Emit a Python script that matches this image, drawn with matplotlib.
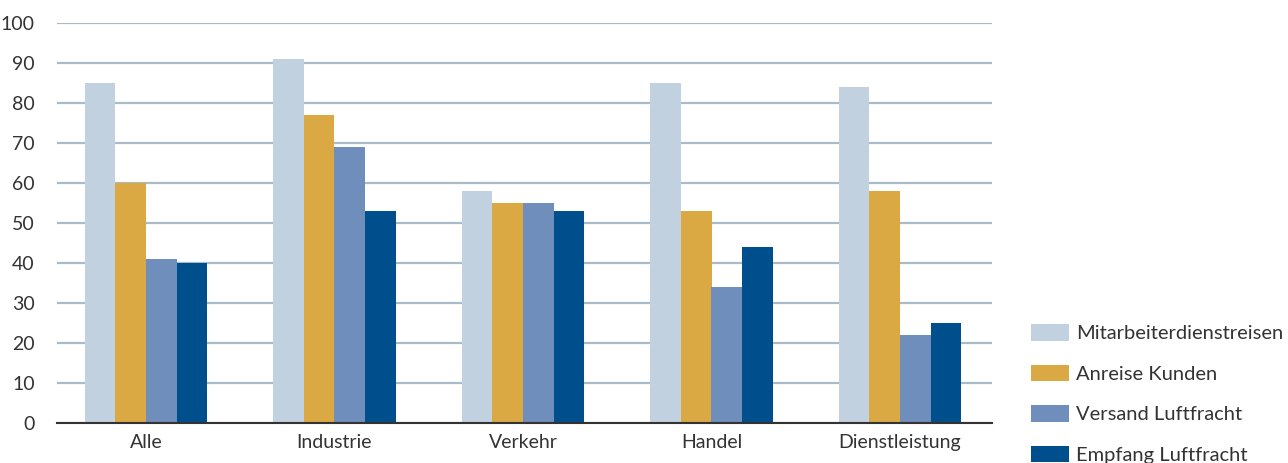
import numpy as np
import matplotlib.pyplot as plt

#%% Data #####################################################################
groups = ["Alle", "Industrie", "Verkehr", "Handel", "Dienstleistung"]
series = ["Mitarbeiterdienstreisen", "Anreise Kunden",
          "Versand Luftfracht", "Empfang Luftfracht"]
mitarbeiter = [85, 91, 58, 85, 84]
anreise = [60, 77, 55, 53, 58]
versand = [41, 69, 55, 34, 22]
empfang = [40, 53, 53, 44, 25]
colors = ["#C2D1E0", "#DBA943", "#6F8EBB", "#004F8D"]

#%% Plot #####################################################################
plt.rcParams['font.family'] = ['Lato', 'DejaVu Sans']
fig = plt.figure(figsize=(12.88, 4.63), dpi=100)
ax = fig.add_axes([57/1288, 40/463, 935/1288, 400/463])

x = np.arange(len(groups))
w = 0.162
for i, (vals, c, name) in enumerate(zip([mitarbeiter, anreise, versand, empfang],
                                         colors, series)):
    ax.bar(x + (i - 1.5) * w, vals, w, color=c, label=name, zorder=3)

ax.set_xlim(-0.472, 4.488)
ax.set_ylim(0, 100)
ax.set_yticks(range(0, 101, 10))
ax.set_xticks(x)
ax.set_xticklabels(groups)
ax.grid(axis='y', color='#A9BBC6', lw=1.6, zorder=0)
for s in ['top', 'right', 'left']:
    ax.spines[s].set_visible(False)
ax.spines['bottom'].set_color('#333333')
ax.spines['bottom'].set_linewidth(1.5)
ax.spines['bottom'].set_zorder(4)
ax.tick_params(length=0, labelsize=14, labelcolor='#333333')
ax.tick_params(axis='y', pad=16)
ax.tick_params(axis='x', pad=8)

ax.legend(loc='upper left', bbox_to_anchor=(1013/1288, 1 - 306/463),
          bbox_transform=fig.transFigure, frameon=False, fontsize=14.5,
          handlelength=1.9, handleheight=0.9, labelspacing=1.1,
          handletextpad=0.35, labelcolor='#333333')

fig.savefig("out.png", dpi=100)
